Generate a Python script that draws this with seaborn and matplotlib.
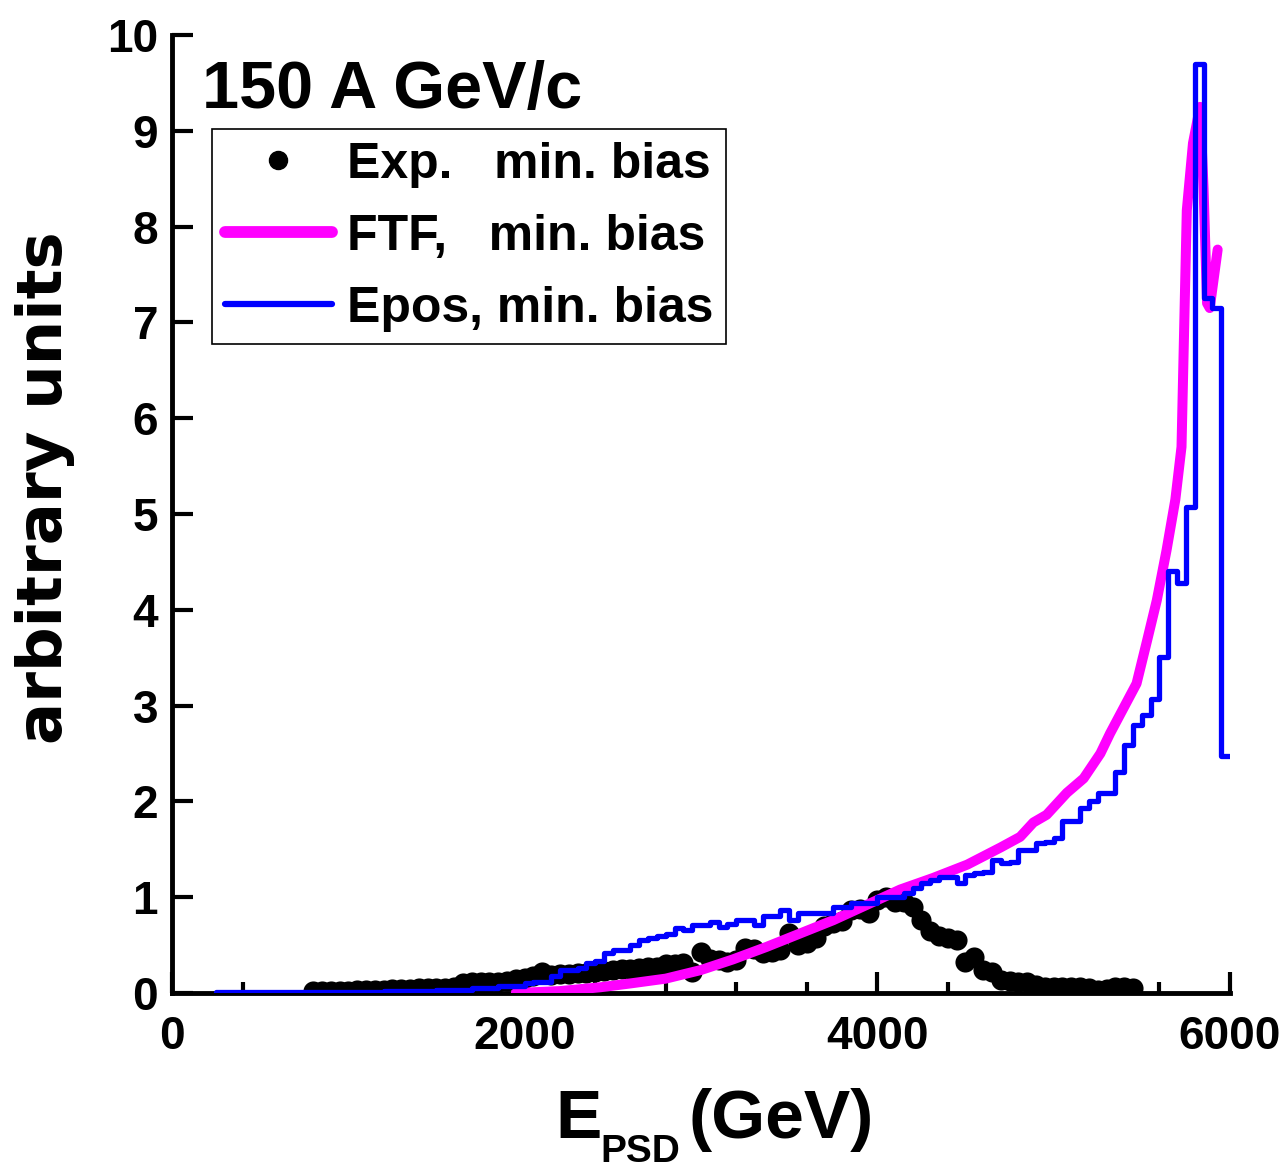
import numpy as np
import pandas as pd
import matplotlib
matplotlib.use("Agg")
import matplotlib.pyplot as plt
from matplotlib.ticker import MultipleLocator
from matplotlib.lines import Line2D
import seaborn as sns

# ---------------- data ----------------
# Experimental min. bias (black dots)
exp_E = [800, 850, 900, 950, 1000, 1050, 1100, 1150, 1200, 1250, 1300, 1350,
         1400, 1450, 1500, 1550, 1600, 1650, 1700, 1750, 1800, 1850, 1900, 1950,
         2000, 2050, 2100, 2150, 2200, 2250, 2300, 2350, 2400, 2450, 2500, 2550,
         2600, 2650, 2700, 2750, 2800, 2850, 2900, 2950, 3000, 3050, 3100, 3150,
         3200, 3250, 3300, 3350, 3400, 3450, 3500, 3550, 3600, 3650, 3700, 3750,
         3800, 3850, 3900, 3950, 4000, 4050, 4100, 4150, 4200, 4250, 4300, 4350,
         4400, 4450, 4500, 4550, 4600, 4650, 4700, 4750, 4800, 4850, 4900, 4950,
         5000, 5050, 5100, 5150, 5200, 5250, 5300, 5350, 5400, 5450]
exp_val = [0.02, 0.02, 0.02, 0.02, 0.02, 0.03, 0.03, 0.03, 0.03, 0.04, 0.04, 0.04,
           0.05, 0.05, 0.05, 0.05, 0.06, 0.10, 0.11, 0.11, 0.12, 0.12, 0.13, 0.15,
           0.16, 0.18, 0.22, 0.19, 0.20, 0.20, 0.21, 0.21, 0.22, 0.23, 0.24, 0.25,
           0.25, 0.26, 0.27, 0.27, 0.30, 0.30, 0.31, 0.22, 0.43, 0.36, 0.34, 0.32,
           0.34, 0.47, 0.46, 0.42, 0.43, 0.45, 0.63, 0.50, 0.52, 0.57, 0.70, 0.73,
           0.75, 0.87, 0.88, 0.83, 0.97, 1.00, 0.95, 0.95, 0.90, 0.76, 0.65, 0.60,
           0.57, 0.55, 0.32, 0.38, 0.24, 0.22, 0.14, 0.13, 0.12, 0.11, 0.08, 0.06,
           0.06, 0.06, 0.06, 0.06, 0.05, 0.03, 0.04, 0.06, 0.06, 0.05]

# FTF min. bias (magenta line)
ftf_E = [1950, 2200, 2430, 2600, 2800, 3000, 3180, 3370, 3560, 3750, 3940, 4130,
         4315, 4510, 4700, 4810, 4885, 4960, 5075, 5170, 5265, 5320, 5470, 5530,
         5585, 5640, 5690, 5725, 5755, 5790, 5830, 5850, 5870, 5885, 5930]
ftf_val = [0.00, 0.02, 0.06, 0.10, 0.15, 0.24, 0.35, 0.48, 0.62, 0.76, 0.92, 1.08,
           1.20, 1.34, 1.52, 1.63, 1.78, 1.86, 2.09, 2.24, 2.50, 2.71, 3.23, 3.68,
           4.10, 4.62, 5.15, 5.70, 8.17, 8.87, 9.25, 8.40, 7.20, 7.15, 7.76]

# Epos min. bias (blue histogram, 50 GeV bins from 250 to 6000 GeV)
epos_lo, epos_hi, epos_w = 250, 6000, 50
epos_val = ([0.01] * 19 + [0.02] * 6 + [0.03] * 4 + [0.05] * 3 + [0.07] * 3 +
            [0.10, 0.12, 0.12, 0.18, 0.24, 0.24, 0.26, 0.31, 0.33, 0.42,
             0.45, 0.45, 0.50, 0.55, 0.57, 0.60, 0.62, 0.68, 0.66, 0.71,
             0.71, 0.74, 0.69, 0.72, 0.76, 0.76, 0.71, 0.80, 0.80, 0.87,
             0.76, 0.83, 0.83, 0.83, 0.83, 0.90, 0.90, 0.94, 0.94, 0.94,
             1.00, 1.00, 1.00, 1.04, 1.10, 1.15, 1.18, 1.21, 1.21, 1.15,
             1.23, 1.25, 1.26, 1.39, 1.36, 1.37, 1.49, 1.49, 1.57, 1.58,
             1.62, 1.80, 1.80, 1.93, 2.00, 2.09, 2.09, 2.31, 2.59, 2.80,
             2.90, 3.07, 3.51, 4.40, 4.28, 5.07, 9.70, 7.25, 7.15, 2.47])

xticks = [0, 2000, 4000, 6000]
yticks = list(range(0, 11))

# ---------------- style ----------------
sns.set_style("ticks")
plt.rcParams["font.family"] = ["Liberation Sans", "DejaVu Sans"]
plt.rcParams["font.weight"] = "bold"
for k in ["text.color", "axes.labelcolor", "xtick.color", "ytick.color", "axes.edgecolor"]:
    plt.rcParams[k] = "black"

W, H = 1282, 1173
fig = plt.figure(figsize=(W / 100, H / 100), dpi=100)
ax = fig.add_axes([172 / W, 1 - 993 / H, (1230 - 172) / W, (993 - 35) / H])

edges = [float(e) for e in np.arange(epos_lo, epos_hi + epos_w / 2, epos_w)]
centers = [(a + b) / 2 for a, b in zip(edges[:-1], edges[1:])]
epos_df = pd.DataFrame({"E": centers, "w": epos_val})
exp_df = pd.DataFrame({"E": exp_E, "v": exp_val})
ftf_df = pd.DataFrame({"E": ftf_E, "v": ftf_val})

sns.scatterplot(data=exp_df, x="E", y="v", color="black", s=210, linewidth=0,
                ax=ax, zorder=2)
sns.lineplot(data=ftf_df, x="E", y="v", color="#FF00FF", linewidth=7.2,
             sort=False, ax=ax, zorder=3)
sns.histplot(data=epos_df, x="E", weights="w", bins=edges, element="step",
             fill=False, color="#0000FF", linewidth=3.8, ax=ax, zorder=4)

ax.set_xlim(0, 6000)
ax.set_ylim(0, 10)
ax.set_xticks(xticks)
ax.set_yticks(yticks)
ax.xaxis.set_minor_locator(MultipleLocator(400))
ax.tick_params(which="major", direction="in", length=15, width=3, labelsize=33)
ax.tick_params(axis="x", which="major", pad=16)
ax.tick_params(axis="y", which="major", pad=10)
ax.tick_params(which="minor", direction="in", length=8, width=3)
for t in ax.get_xticklabels() + ax.get_yticklabels():
    t.set_fontweight("bold")
sns.despine(ax=ax)
for sp in ["left", "bottom"]:
    ax.spines[sp].set_linewidth(3.5)
    ax.spines[sp].set_color("black")
ax.set_xlabel("")
ax.set_ylabel("")

# x-axis title: E with subscript PSD, then (GeV)
fig.text(555 / W, 1 - 1138 / H, "E", fontsize=50, fontweight="bold",
         va="baseline", ha="left")
fig.text(600 / W, 1 - 1162 / H, "PSD", fontsize=28, fontweight="bold",
         va="baseline", ha="left")
fig.text(688 / W, 1 - 1138 / H, "(GeV)", fontsize=50, fontweight="bold",
         va="baseline", ha="left")

# y-axis title
fig.text(45 / W, 1 - 488 / H, "arbitrary units", fontsize=45, fontweight="bold",
         rotation=90, va="center", ha="center", family=["DejaVu Sans"])

fig.text(202 / W, 1 - 108 / H, "150 A GeV/c", fontsize=48, fontweight="bold",
         va="baseline", ha="left")

handles = [
    Line2D([], [], linestyle="none", marker="o", markersize=13, color="black"),
    Line2D([], [], color="#FF00FF", linewidth=8.5, solid_capstyle="round"),
    Line2D([], [], color="#0000FF", linewidth=4.5, solid_capstyle="round"),
]
labels = ["Exp.   min. bias", "FTF,   min. bias", "Epos, min. bias"]
leg = ax.legend(handles, labels, loc="upper left",
                bbox_to_anchor=(212 / W, 1 - 129 / H), bbox_transform=fig.transFigure,
                fontsize=36, frameon=True, fancybox=False, framealpha=1,
                edgecolor="black", borderaxespad=0, borderpad=0.25,
                handlelength=2.15, handletextpad=0.3, labelspacing=0.52)
leg.get_frame().set_linewidth(1.2)
for t in leg.get_texts():
    t.set_fontweight("bold")

fig.savefig("out.png", dpi=100)
